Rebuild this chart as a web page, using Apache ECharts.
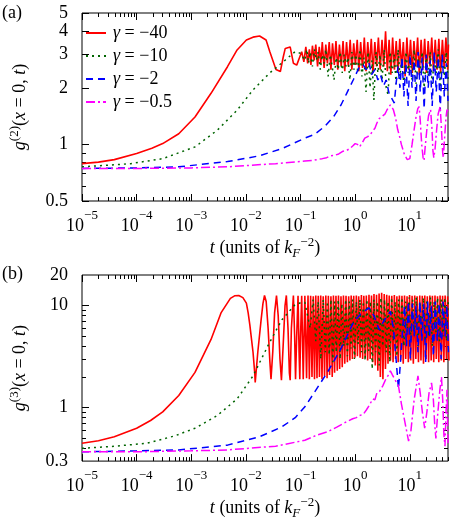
<!DOCTYPE html>
<html>
<head>
<meta charset="utf-8">
<script src="https://cdn.jsdelivr.net/npm/echarts@6/dist/echarts.min.js"></script>
<style>
html, body { margin: 0; padding: 0; background: #fff; }
#chart { width: 453px; height: 521px; }
</style>
</head>
<body>
<div id="chart"></div>
<script>
// tick values
const xDecades = [1e-5, 1e-4, 1e-3, 1e-2, 1e-1, 1, 10];
const minorSteps = [2, 3, 4, 5, 6, 7, 8, 9];
const yLabelsA = [0.5, 1, 2, 3, 4, 5];
const yMinorA = [0.6, 0.7, 0.8, 0.9];
const yLabelsB = [0.3, 1, 10, 20];
const yMajorB = [1, 10];
const yMinorB = [0.4, 0.5, 0.6, 0.7, 0.8, 0.9, 2, 3, 4, 5, 6, 7, 8, 9];

const names = ['γ = −40', 'γ = −10', 'γ = −2', 'γ = −0.5'];
const colors = ['#ff0000', '#006400', '#0000ff', '#ff00ff'];

// panel (a): g2(t)
const redA = [[1e-5,0.79],[2e-5,0.805],[3.9e-5,0.83],[1e-4,0.895],[1.9e-4,0.955],[3e-4,1.01],[5.9e-4,1.14],[1.17e-3,1.40],[2.3e-3,1.87],[4.6e-3,2.59],[6.9e-3,3.18],[0.0102,3.59],[0.0135,3.72],[0.0178,3.77],[0.0234,3.59],[0.0275,3.1],[0.0309,2.81],[0.0355,2.5],[0.0427,2.44],[0.048,2.9],[0.0525,3.24],[0.0646,3.3],[0.0741,2.7],[0.0851,2.64],[0.105,3.11],
  [0.115,2.75],[0.125,3.3],[0.135,2.7],[0.145,3.2],[0.155,2.65],[0.165,3.35],[0.178,2.8],[0.19,3.4],[0.205,2.6],[0.22,3.3],[0.235,2.7],[0.25,3.5],[0.27,2.55],[0.29,3.4],[0.31,2.7],[0.335,3.5],[0.36,2.5],[0.385,3.45],[0.415,2.65],[0.445,3.55],[0.48,2.5],[0.515,3.4],[0.555,2.6],[0.6,3.55],[0.645,2.45],[0.695,3.5],[0.75,2.6],[0.81,3.6],[0.87,2.5],[0.94,3.45],[1.01,2.65],[1.09,3.6],[1.17,2.45],[1.26,3.5],[1.36,2.55],[1.47,3.7],[1.58,2.45],[1.7,3.5],[1.83,2.6],[1.97,3.65],[2.12,2.4],[2.29,3.5],[2.47,2.6],[2.66,3.7],[2.87,2.5],[3.1,3.6],[3.34,2.6],[3.6,4.0],[3.88,2.45],[4.18,3.6],[4.5,2.35],[4.85,3.7],[5.23,2.5],[5.64,3.55],[6.08,2.4],[6.55,3.65],[7.06,2.55],[7.61,3.5],[8.2,2.3],[8.84,3.7],[9.53,2.5],[10.3,3.6],[11.1,2.4],[11.9,3.55],[12.9,2.6],[13.9,3.7],[14.9,2.35],[16.1,3.6],[17.3,2.5],[18.7,3.65],[20.1,2.4],[21.7,3.55],[23.4,2.6],[25.2,3.7],[27.1,2.45],[29.2,3.6],[31.5,2.5],[34,3.65],[36.6,2.4],[39.5,3.6],[42.5,2.55],[45.8,3.7],[49.4,2.5],[51,3.4]];
const greenA = [[1e-5,0.76],[3e-5,0.775],[7.8e-5,0.79],[3e-4,0.84],[1.17e-3,0.97],[3e-3,1.19],[6.9e-3,1.52],[0.0135,1.95],[0.0269,2.39],[0.0525,2.81],[0.079,3.11],[0.1,3.05],
  [0.12,2.8],[0.13,3.2],[0.14,2.7],[0.15,3.1],[0.165,2.6],[0.18,3.2],[0.195,2.8],[0.21,3.1],[0.23,2.5],[0.25,3.0],[0.27,2.7],[0.29,3.2],[0.32,2.3],[0.35,3.0],[0.38,2.6],[0.41,2.2],[0.45,2.9],[0.49,2.5],[0.53,3.1],[0.58,2.4],[0.63,3.0],[0.68,2.6],[0.74,2.9],[0.80,2.2],[0.87,3.1],[0.95,2.5],[1.03,3.0],[1.12,2.4],[1.22,3.2],[1.33,2.3],[1.45,2.9],[1.58,1.9],[1.72,3.1],[1.87,2.0],[2.03,2.8],[2.2,1.72],[2.4,3.1],[2.6,2.4],[2.85,3.0],[3.1,2.2],[3.4,3.2],[3.7,2.0],[4.0,1.83],[4.35,3.1],[4.75,2.4],[5.2,3.0],[5.6,2.1],[6.1,3.2],[6.6,2.3],[7.2,2.9],[7.8,2.0],[8.5,3.1],[9.3,2.4],[10.1,3.0],[11,2.2],[12,3.2],[13,2.1],[14.2,2.9],[15.5,2.4],[16.8,3.1],[18.3,2.0],[20,3.0],[21.7,2.3],[23.6,3.1],[25.7,2.1],[28,2.9],[30.5,2.4],[33.2,3.2],[36,2.0],[39.3,3.0],[42.8,2.3],[46.5,3.1],[50,2.2]];
const blueA = [[1e-5,0.745],[1e-4,0.75],[5.9e-4,0.76],[4.6e-3,0.81],[0.0178,0.87],[0.0457,0.95],[0.12,1.08],[0.18,1.13],[0.28,1.25],[0.4,1.40],[0.55,1.62],[0.7,1.87],[0.92,2.2],[1.2,2.59],[1.4,2.65],
  [1.6,2.5],[1.8,2.7],[2.0,2.35],[2.3,2.5],[2.6,2.2],[2.9,2.35],[3.3,2.05],[3.7,2.2],[4.2,1.85],[4.7,1.75],[5.2,1.66],[5.6,2.1],[6.1,2.6],[6.6,2.0],[7.2,2.9],[7.8,1.8],[8.5,2.7],[9.3,1.6],[10.1,3.0],[11,2.0],[12,2.8],[13,1.7],[14.2,3.1],[15.5,1.9],[16.8,2.9],[18.3,1.55],[20,3.0],[21.7,2.0],[23.6,2.8],[25.7,1.6],[28,3.1],[30.5,1.9],[33.2,2.9],[36,1.5],[39.3,3.0],[42.8,1.8],[46.5,2.7],[50,1.7]];
const magentaA = [[1e-5,0.745],[1e-4,0.745],[1e-3,0.75],[4.6e-3,0.76],[0.035,0.79],[0.12,0.815],[0.16,0.82],[0.2,0.83],[0.25,0.84],[0.3,0.85],[0.36,0.87],[0.42,0.875],[0.5,0.89],[0.6,0.92],[0.7,0.93],[0.8,0.95],[0.9,0.98],[1.0,1.01],[1.1,1.0],[1.2,0.97],[1.35,1.02],[1.5,1.08],[1.7,1.10],[1.9,1.13],[2.1,1.18],[2.3,1.22],[2.5,1.3],[2.75,1.37],[3.0,1.4],[3.2,1.43],[3.5,1.45],[3.8,1.52],[4.1,1.58],[4.4,1.62],[4.7,1.6],[5.0,1.53],[5.5,1.38],[6.0,1.2],[6.5,1.1],[7,1.0],[8,0.88],[9,0.83],[9.5,0.81],[10,0.84],[11,1.0],[12,1.2],[13,1.4],[14,1.55],[14.8,1.59],[15.5,1.35],[16.5,1.0],[17.5,0.85],[18.2,0.82],[19,0.95],[20.5,1.2],[22,1.42],[24,1.53],[25.5,1.2],[26.5,0.92],[27.5,0.85],[29,0.95],[31,1.2],[33,1.45],[36,1.59],[38,1.2],[40,0.9],[41,0.85],[43,1.05],[46,1.4],[48,1.53],[50,1.5]];

// panel (b): g3(t)
const redB = [[1e-5,0.448],[2e-5,0.475],[3.9e-5,0.52],[1e-4,0.63],[1.8e-4,0.75],[3e-4,0.91],[5.9e-4,1.32],[1.17e-3,2.22],[2.3e-3,4.67],[3.5e-3,8.5],[5.2e-3,11.8],[6.2e-3,12.5],[7.4e-3,12.6],[0.0088,12.0],[0.0102,10.6],[0.011,8.5],[0.0118,6.5],[0.0135,3.5],[0.0145,2.2],[0.0148,1.77],[0.0165,3.5],[0.019,7.3],[0.0205,10.5],[0.0219,12.6],[0.0235,11],[0.0255,6],[0.0275,2.8],[0.0288,1.91],[0.031,3.5],[0.0335,8.5],[0.0363,12.6],[0.039,8],[0.042,3],[0.0447,1.86],[0.048,4],[0.052,10],[0.055,12.6],[0.059,6],[0.0625,2.2],[0.0646,1.86],[0.068,6],[0.074,12.6],[0.078,5],[0.081,1.9],[0.085,5],[0.09,12.5],[0.094,3.5],[0.097,1.9],[0.1,5],[0.105,12.5],[0.112,1.9],[0.12,12.5],[0.129,1.95],[0.137,12.6],[0.145,1.9],[0.153,12.5],[0.162,2.0],[0.171,12.4],[0.18,1.9],[0.19,12.6],
  [0.2,1.95],[0.211,12.5],[0.222,2.0],[0.234,12.6],[0.247,1.9],[0.26,12.4],[0.275,2.05],[0.29,12.6],[0.306,1.95],[0.323,12.5],[0.34,2.1],[0.36,12.4],[0.38,2.0],[0.4,12.6],[0.42,2.2],[0.445,12.5],[0.47,2.3],[0.495,12.6],[0.52,2.4],[0.55,12.4],[0.58,2.5],[0.61,12.6],[0.645,2.7],[0.68,12.5],[0.72,2.8],[0.76,12.4],[0.8,2.9],[0.845,12.6],[0.89,3.0],[0.94,12.5],[0.99,3.1],[1.05,12.6],[1.1,3.2],[1.16,12.4],[1.23,3.1],[1.3,12.7],[1.37,3.0],[1.44,12.5],[1.52,3.1],[1.6,12.6],[1.69,2.9],[1.79,12.8],[1.88,3.0],[1.99,12.6],[2.1,2.8],[2.21,13.0],[2.33,2.6],[2.46,12.8],[2.6,2.3],[2.74,13.2],[2.89,2.0],[3.05,13.4],[3.22,1.9],[3.4,13.0],[3.58,2.4],[3.78,12.8],[3.99,2.7],[4.2,12.6],[4.43,2.9],[4.68,12.5],[4.94,2.8],[5.21,12.7],[5.5,3.0],[5.8,12.4],[6.12,2.8],[6.45,12.6],[6.81,2.9],[7.18,12.5],[7.58,2.7],[8,12.6],[8.43,3.0],[8.9,12.4],[9.39,2.8],[9.9,12.7],[10.4,2.9],[11,12.5],[11.6,2.7],[12.3,12.6],[12.9,3.0],[13.6,12.4],[14.4,2.8],[15.2,12.6],[16,2.9],[16.9,12.5],[17.8,2.7],[18.8,12.6],[19.8,3.0],[20.9,12.4],[22.1,2.8],[23.3,12.6],[24.6,2.9],[25.9,12.5],[27.4,2.8],[28.9,12.6],[30.5,3.0],[32.1,12.4],[33.9,2.8],[35.8,12.6],[37.7,2.9],[39.8,12.5],[42,2.8],[44.3,12.6],[46.8,3.0],[49.3,12.4],[52,2.9]];
const greenB = [[1e-5,0.40],[4e-5,0.42],[1.5e-4,0.448],[5e-4,0.53],[1.17e-3,0.63],[3e-3,0.84],[6.9e-3,1.22],[0.0135,2.05],[0.0269,4.33],[0.0457,7.3],[0.079,10.2],[0.1,10.7],[0.12,10.8],
  [0.13,11],[0.15,6],[0.17,11.5],[0.19,4.5],[0.21,11],[0.235,3.0],[0.26,11.5],[0.285,3.5],[0.31,11],[0.335,3.3],[0.36,11.5],[0.39,2.8],[0.42,11],[0.45,3.5],[0.49,11.5],[0.53,3.0],[0.57,10.5],[0.62,4],[0.67,11.5],[0.72,3.2],[0.78,11],[0.84,3.8],[0.9,11.5],[0.97,3.0],[1.05,11],[1.13,4.2],[1.22,11.5],[1.31,3.5],[1.41,11],[1.52,2.9],[1.64,11.5],[1.77,3.6],[1.9,11],[2.05,2.4],[2.2,11.5],[2.37,3.5],[2.55,11],[2.75,2.6],[2.96,12],[3.2,4],[3.45,11.5],[3.7,3.5],[4.0,11],[4.3,2.8],[4.65,12],[5.0,4.5],[5.4,11],[5.8,3.2],[6.25,11.5],[6.7,5],[7.2,12],[7.8,4],[8.4,11],[9.0,5.5],[9.7,12],[10.5,4.5],[11.3,11.5],[12.2,5],[13.1,12],[14.1,4],[15.2,11],[16.4,5.5],[17.7,12],[19.1,4.5],[20.6,11.5],[22.2,5],[23.9,12],[25.8,4],[27.8,11],[30,5.5],[32.3,12],[34.8,4.5],[37.5,11.5],[40.4,5],[43.6,12],[47,4.5],[50.6,11]];
const blueB = [[1e-5,0.37],[1e-4,0.378],[5.9e-4,0.386],[4.6e-3,0.43],[0.0178,0.52],[0.0457,0.65],[0.08,0.8],[0.12,1.02],[0.18,1.42],[0.31,2.22],[0.54,3.73],[0.92,6.8],[1.3,8.5],[1.8,9.5],[2.2,8.0],[2.75,5.8],[3.3,7.0],[4.4,8.8],[5.0,6.0],[5.6,3.0],[6.2,1.53],[6.8,3.0],[7.4,6],[8.0,10],[8.7,4],[9.4,11],[10.2,3],[11.1,10.5],[12,5],[13,10],[14.1,3.5],[15.3,11],[16.6,4.5],[18,10.5],[19.5,2.8],[21.2,11],[23,5],[24.9,10],[27,3.2],[29.3,11],[31.8,4.5],[34.5,10.5],[37.4,3],[40.6,11],[44,5],[47.7,10],[51,3.5]];
const magentaB = [[1e-5,0.37],[1e-4,0.37],[1e-3,0.378],[4.6e-3,0.386],[0.035,0.42],[0.12,0.48],[0.2,0.54],[0.31,0.58],[0.47,0.65],[0.7,0.73],[0.9,0.78],[1.05,0.8],[1.2,0.84],[1.3,0.82],[1.4,0.86],[1.6,0.95],[1.8,1.05],[2.1,1.22],[2.3,1.2],[2.5,1.4],[2.8,1.45],[3.2,1.64],[3.7,1.95],[4.1,2.1],[4.4,2.3],[4.8,2.1],[5.3,1.9],[6.2,1.64],[7,1.1],[8.1,0.73],[9.5,0.47],[10.5,0.6],[12,1.2],[14.1,2.05],[15.5,1.4],[17,0.9],[18.7,0.63],[20.5,0.9],[22.5,1.4],[25,1.75],[27,1.2],[28.5,0.7],[30,0.5],[32,0.8],[35.5,1.5],[38,2.0],[40,1.2],[42,0.55],[44,0.42],[46,0.9],[48,1.5],[50,0.45]];

const xMinor = [];
xDecades.forEach(d => minorSteps.forEach(s => { if (d * s <= 50) xMinor.push(d * s); }));

const serif = "'Liberation Serif', 'DejaVu Serif', serif";
const sup = { fontSize: 13, fontFamily: serif, verticalAlign: 'top', lineHeight: 12 };
const xName = '{i|t} (units of {i|k}{sub|F}{sup|−2})';

function xAxisSet(grid) {
  const base = {
    type: 'log', gridIndex: grid, min: 1e-5, max: 50,
    splitLine: { show: false }, axisLine: { show: false },
    axisLabel: { show: false }
  };
  const tick = (vals, len) => ({ show: true, inside: true, length: len, customValues: vals, lineStyle: { color: '#000', width: 1 } });
  return [
    Object.assign({}, base, {
      position: 'bottom', axisTick: tick(xDecades, 7),
      axisLabel: {
        show: true, customValues: xDecades, margin: 8, color: '#000',
        formatter: v => {
          const e = Math.round(Math.log10(v));
          return '{b|10}{s|' + (e < 0 ? '−' + (-e) : e) + '}';
        },
        rich: { b: { fontSize: 18, fontFamily: serif, verticalAlign: 'bottom', lineHeight: 26 }, s: sup }
      },
      name: xName, nameLocation: 'middle', nameGap: 30,
      nameTextStyle: {
        fontSize: 18, fontFamily: serif, color: '#000', lineHeight: 24,
        rich: {
          i: { fontSize: 18, fontFamily: serif, fontStyle: 'italic' },
          sup: sup,
          sub: { fontSize: 13, fontFamily: serif, fontStyle: 'italic', verticalAlign: 'bottom', lineHeight: 10 }
        }
      }
    }),
    Object.assign({}, base, { position: 'bottom', axisTick: tick(xMinor, 4) }),
    Object.assign({}, base, { position: 'top', axisTick: tick(xDecades, 7) }),
    Object.assign({}, base, { position: 'top', axisTick: tick(xMinor, 4) })
  ];
}

function yAxisSet(grid, min, max, labels, major, minor, name) {
  const base = {
    type: 'log', gridIndex: grid, min: min, max: max,
    splitLine: { show: false }, axisLine: { show: false },
    axisLabel: { show: false }
  };
  const tick = (vals, len) => ({ show: true, inside: true, length: len, customValues: vals, lineStyle: { color: '#000', width: 1 } });
  return [
    Object.assign({}, base, {
      position: 'left', axisTick: tick(major, 7),
      axisLabel: {
        show: true, customValues: labels, margin: 14, color: '#000',
        fontSize: 18, fontFamily: serif,
        formatter: v => String(Math.round(v * 10) / 10)
      },
      name: name, nameLocation: 'middle', nameGap: 50, nameRotate: 90,
      nameTextStyle: {
        fontSize: 18, fontFamily: serif, color: '#000', lineHeight: 24,
        rich: { i: { fontSize: 18, fontFamily: serif, fontStyle: 'italic' }, sup: sup }
      }
    }),
    Object.assign({}, base, { position: 'left', axisTick: tick(minor, 4) }),
    Object.assign({}, base, { position: 'right', axisTick: tick(major, 7) }),
    Object.assign({}, base, { position: 'right', axisTick: tick(minor, 4) })
  ];
}

const dashes = ['solid', [2, 4], [7, 5], [9, 3, 2, 3]];

function lineSeries(i, data, axisIdx) {
  return {
    name: names[i], type: 'line', data: data,
    xAxisIndex: axisIdx, yAxisIndex: axisIdx,
    symbol: 'none', showSymbol: false, smooth: false,
    lineStyle: { color: colors[i], width: i === 0 ? 1.6 : 1.5, type: dashes[i] },
    itemStyle: { color: colors[i] },
    clip: true
  };
}

const chart = echarts.init(document.getElementById('chart'), null, { renderer: 'canvas' });

const option = {
  animation: false,
  backgroundColor: '#fff',
  grid: [
    { left: 70, right: 5, top: 13, height: 188, show: true, borderColor: '#000', borderWidth: 1, backgroundColor: 'transparent' },
    { left: 70, right: 5, top: 275, height: 188, show: true, borderColor: '#000', borderWidth: 1, backgroundColor: 'transparent' }
  ],
  xAxis: xAxisSet(0).concat(xAxisSet(1)),
  yAxis: yAxisSet(0, 0.5, 5, yLabelsA, yLabelsA, yMinorA, '{i|g}{sup|(2)}({i|x} = 0, {i|t})')
    .concat(yAxisSet(1, 0.3, 20, yLabelsB, yMajorB, yMinorB, '{i|g}{sup|(3)}({i|x} = 0, {i|t})')),
  legend: {
    data: names, orient: 'vertical', left: 80, top: 17, itemWidth: 20, itemHeight: 14, itemGap: 1,
    itemStyle: { opacity: 0 },
    formatter: n => n.replace('γ', '{i|γ}'),
    textStyle: {
      fontSize: 18, fontFamily: serif, color: '#000', lineHeight: 22, padding: [0, 0, 0, 2],
      rich: { i: { fontSize: 18, fontFamily: serif, fontStyle: 'italic' } }
    }
  },
  graphic: [
    { type: 'text', left: 2, top: 4, style: { text: '(a)', font: '18px ' + serif, fill: '#000' } },
    { type: 'text', left: 2, top: 265, style: { text: '(b)', font: '18px ' + serif, fill: '#000' } }
  ],
  series: [
    lineSeries(0, redA, 0), lineSeries(1, greenA, 0), lineSeries(2, blueA, 0), lineSeries(3, magentaA, 0),
    lineSeries(0, redB, 4), lineSeries(1, greenB, 4), lineSeries(2, blueB, 4), lineSeries(3, magentaB, 4)
  ]
};

chart.setOption(option);
</script>
</body>
</html>
